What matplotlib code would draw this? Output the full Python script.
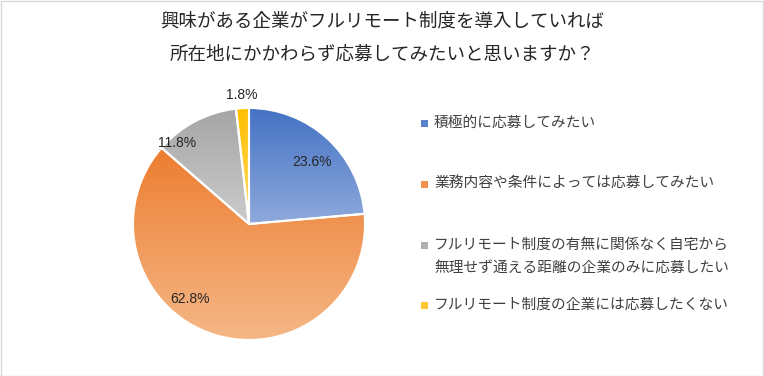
import numpy as np
import matplotlib
matplotlib.use("Agg")
import matplotlib.pyplot as plt
from matplotlib.patches import Rectangle
from matplotlib.colors import LinearSegmentedColormap

plt.rcParams['font.family'] = ['Noto Sans CJK JP', 'DejaVu Sans']

title_lines = ["興味がある企業がフルリモート制度を導入していれば",
               "所在地にかかわらず応募してみたいと思いますか？"]
categories = ["積極的に応募してみたい",
              "業務内容や条件によっては応募してみたい",
              "フルリモート制度の有無に関係なく自宅から\n無理せず通える距離の企業のみに応募したい",
              "フルリモート制度の企業には応募したくない"]
values = [23.6, 62.8, 11.8, 1.8]
pct_labels = ["23.6%", "62.8%", "11.8%", "1.8%"]

top_colors = ["#4472C4", "#ED7D31", "#A5A5A5", "#FFC000"]
bottom_colors = ["#8FAADC", "#F5B887", "#CCCCCC", "#FFD966"]
legend_colors = ["#5B82CC", "#F09050", "#B0B0B0", "#FFC830"]
# label placement style: (angle offset deg, radius fraction)
label_style = [(-3, 0.76), (-20, 0.82), (14, 0.93), (0, 1.11)]

W, H = 764, 376
fig = plt.figure(figsize=(W / 100, H / 100), dpi=100)
fig.patch.set_facecolor("white")
fig.add_artist(Rectangle((0.5 / W, 0.5 / H), 1 - 1.5 / W, 1 - 1.5 / H,
                         transform=fig.transFigure, fill=False,
                         edgecolor="#D9D9D9", linewidth=1))

# pie axes: center (249,224) px, radius 116 px
cx, cy, R = 249, 224, 116
half = 149
ax = fig.add_axes([(cx - half) / W, (H - cy - half) / H, 2 * half / W, 2 * half / H])
lim = half / R
ax.set_xlim(-lim, lim)
ax.set_ylim(-lim, lim)
ax.set_aspect("equal")
ax.axis("off")

wedges, _ = ax.pie(values, startangle=90, counterclock=False, radius=1,
                   wedgeprops=dict(edgecolor="white", linewidth=1.5))
for w, tc, bc in zip(wedges, top_colors, bottom_colors):
    verts = w.get_path().vertices
    x0, x1 = verts[:, 0].min(), verts[:, 0].max()
    y0, y1 = verts[:, 1].min(), verts[:, 1].max()
    cmap = LinearSegmentedColormap.from_list("g", [tc, bc])
    grad = np.linspace(0, 1, 256).reshape(-1, 1)
    im = ax.imshow(grad, cmap=cmap, extent=[x0, x1, y0, y1], origin="upper",
                   aspect="auto", zorder=1, interpolation="bilinear")
    im.set_clip_path(w)
    w.set_facecolor("none")
    w.set_zorder(2)
ax.set_xlim(-lim, lim)
ax.set_ylim(-lim, lim)

for w, lab, (da, rf) in zip(wedges, pct_labels, label_style):
    mid = np.deg2rad((w.theta1 + w.theta2) / 2 + da)
    ax.text(rf * np.cos(mid), rf * np.sin(mid), lab, ha="center", va="center",
            fontsize=10, family="Liberation Sans", color="#262626", zorder=3)

# title
for i, line in enumerate(title_lines):
    fig.text(382 / W, 1 - (22 + 33 * i) / H, line, ha="center", va="center",
             fontsize=13.3, color="#262626")

# legend (manual)
legend_y = [123, 184, 245, 305]
for cat, col, ly in zip(categories, legend_colors, legend_y):
    fig.add_artist(Rectangle((421 / W, 1 - (ly + 3.5) / H), 7 / W, 7 / H,
                             transform=fig.transFigure, facecolor=col,
                             edgecolor="none"))
    for j, part in enumerate(cat.split("\n")):
        fig.text(434 / W, 1 - (ly + 23 * j) / H, part, ha="left", va="center",
                 fontsize=10.6, color="#404040")

fig.savefig("out.png", dpi=100)
